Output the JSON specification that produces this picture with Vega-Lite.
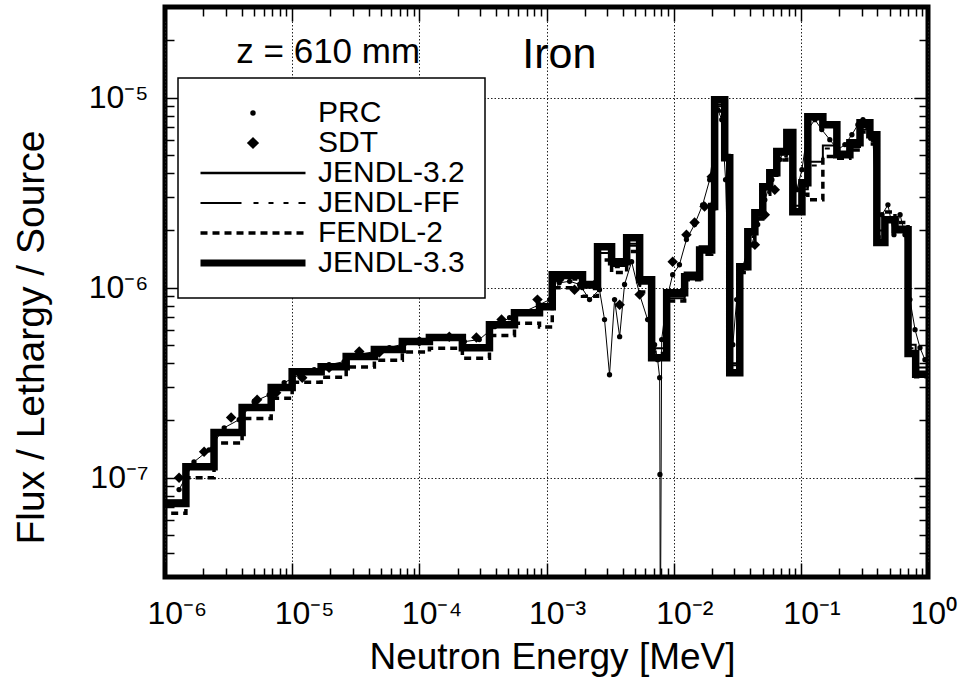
{
  "$schema": "https://vega.github.io/schema/vega-lite/v6.json",
  "width": 763,
  "height": 570,
  "autosize": {"type": "none"},
  "padding": {"left": 165, "top": 7, "right": 46, "bottom": 105},
  "background": "white",
  "config": {
    "view": {"stroke": "black", "strokeWidth": 5},
    "font": "Liberation Sans",
    "axis": {"domain": false, "labelFont": "Liberation Sans", "titleFont": "Liberation Sans", "labelColor": "black", "titleColor": "black", "tickColor": "black", "tickWidth": 1.5, "titleFontWeight": "normal"},
    "legend": {"labelFont": "Liberation Sans", "labelFontSize": 30, "labelColor": "black", "labelLimit": 400, "symbolSize": 11025, "symbolStrokeWidth": 2, "symbolOffset": 0, "labelOffset": 13, "padding": 20, "rowPadding": 0, "strokeColor": "black", "strokeWidth": 1.5, "fillColor": "white"}
  },
  "datasets": {
    "lines": [
      {"s":"JENDL-3.3","e":9e-7,"f":7.3e-8},{"s":"JENDL-3.3","e":1.46e-6,"f":1.14e-7},{"s":"JENDL-3.3","e":2.43e-6,"f":1.73e-7},{"s":"JENDL-3.3","e":4.04e-6,"f":2.34e-7},{"s":"JENDL-3.3","e":6.84e-6,"f":2.98e-7},{"s":"JENDL-3.3","e":1e-5,"f":3.61e-7},{"s":"JENDL-3.3","e":1.69e-5,"f":3.84e-7},{"s":"JENDL-3.3","e":2.66e-5,"f":4.34e-7},{"s":"JENDL-3.3","e":4.43e-5,"f":4.72e-7},{"s":"JENDL-3.3","e":7.35e-5,"f":5.2e-7},{"s":"JENDL-3.3","e":1.2e-4,"f":5.46e-7},{"s":"JENDL-3.3","e":2.18e-4,"f":4.83e-7},{"s":"JENDL-3.3","e":3.56e-4,"f":6.38e-7},{"s":"JENDL-3.3","e":5.6e-4,"f":7.38e-7},{"s":"JENDL-3.3","e":8.81e-4,"f":7.94e-7},{"s":"JENDL-3.3","e":1.11e-3,"f":1.17e-6},{"s":"JENDL-3.3","e":1.92e-3,"f":1.04e-6},{"s":"JENDL-3.3","e":2.52e-3,"f":1.64e-6},{"s":"JENDL-3.3","e":3.25e-3,"f":1.37e-6},{"s":"JENDL-3.3","e":4.27e-3,"f":1.83e-6},{"s":"JENDL-3.3","e":5.4e-3,"f":1.1e-6},{"s":"JENDL-3.3","e":6.71e-3,"f":4.28e-7},{"s":"JENDL-3.3","e":8.81e-3,"f":9.41e-7},{"s":"JENDL-3.3","e":1.22e-2,"f":1.14e-6},{"s":"JENDL-3.3","e":1.6e-2,"f":1.58e-6},{"s":"JENDL-3.3","e":1.99e-2,"f":2.67e-6},{"s":"JENDL-3.3","e":2.1e-2,"f":9.76e-6},{"s":"JENDL-3.3","e":2.52e-2,"f":4.83e-6},{"s":"JENDL-3.3","e":2.76e-2,"f":3.57e-7},{"s":"JENDL-3.3","e":3.31e-2,"f":1.29e-6},{"s":"JENDL-3.3","e":3.83e-2,"f":1.97e-6},{"s":"JENDL-3.3","e":4.35e-2,"f":2.48e-6},{"s":"JENDL-3.3","e":5.02e-2,"f":3.4e-6},{"s":"JENDL-3.3","e":5.7e-2,"f":4.03e-6},{"s":"JENDL-3.3","e":6.47e-2,"f":5.2e-6},{"s":"JENDL-3.3","e":7.76e-2,"f":6.55e-6},{"s":"JENDL-3.3","e":8.65e-2,"f":2.51e-6},{"s":"JENDL-3.3","e":0.102,"f":3.57e-6},{"s":"JENDL-3.3","e":0.1135,"f":7.94e-6},{"s":"JENDL-3.3","e":0.149,"f":7.21e-6},{"s":"JENDL-3.3","e":0.192,"f":5.01e-6},{"s":"JENDL-3.3","e":0.243,"f":5.79e-6},{"s":"JENDL-3.3","e":0.292,"f":7.38e-6},{"s":"JENDL-3.3","e":0.349,"f":6.38e-6},{"s":"JENDL-3.3","e":0.396,"f":1.73e-6},{"s":"JENDL-3.3","e":0.458,"f":2.28e-6},{"s":"JENDL-3.3","e":0.55,"f":2.02e-6},{"s":"JENDL-3.3","e":0.697,"f":4.5e-7},{"s":"JENDL-3.3","e":0.8,"f":3.5e-7},{"s":"JENDL-3.3","e":1.05,"f":3.5e-7},
      {"s":"JENDL-3.2","e":9e-7,"f":7.6e-8},{"s":"JENDL-3.2","e":1.46e-6,"f":1.18e-7},{"s":"JENDL-3.2","e":2.43e-6,"f":1.76e-7},{"s":"JENDL-3.2","e":4.04e-6,"f":2.38e-7},{"s":"JENDL-3.2","e":6.84e-6,"f":3.0e-7},{"s":"JENDL-3.2","e":1e-5,"f":3.66e-7},{"s":"JENDL-3.2","e":1.69e-5,"f":3.9e-7},{"s":"JENDL-3.2","e":2.66e-5,"f":4.4e-7},{"s":"JENDL-3.2","e":4.43e-5,"f":4.78e-7},{"s":"JENDL-3.2","e":7.35e-5,"f":5.25e-7},{"s":"JENDL-3.2","e":1.2e-4,"f":5.5e-7},{"s":"JENDL-3.2","e":2.18e-4,"f":4.9e-7},{"s":"JENDL-3.2","e":3.56e-4,"f":6.45e-7},{"s":"JENDL-3.2","e":5.6e-4,"f":7.45e-7},{"s":"JENDL-3.2","e":8.81e-4,"f":8.2e-7},{"s":"JENDL-3.2","e":1.11e-3,"f":1.12e-6},{"s":"JENDL-3.2","e":1.92e-3,"f":1.0e-6},{"s":"JENDL-3.2","e":2.52e-3,"f":1.52e-6},{"s":"JENDL-3.2","e":3.25e-3,"f":1.3e-6},{"s":"JENDL-3.2","e":4.27e-3,"f":1.7e-6},{"s":"JENDL-3.2","e":5.4e-3,"f":1.05e-6},{"s":"JENDL-3.2","e":6.71e-3,"f":4.8e-7},{"s":"JENDL-3.2","e":8.81e-3,"f":9.0e-7},{"s":"JENDL-3.2","e":1.22e-2,"f":1.2e-6},{"s":"JENDL-3.2","e":1.6e-2,"f":1.65e-6},{"s":"JENDL-3.2","e":1.99e-2,"f":2.8e-6},{"s":"JENDL-3.2","e":2.1e-2,"f":9.2e-6},{"s":"JENDL-3.2","e":2.52e-2,"f":5.0e-6},{"s":"JENDL-3.2","e":2.76e-2,"f":4.0e-7},{"s":"JENDL-3.2","e":3.31e-2,"f":1.25e-6},{"s":"JENDL-3.2","e":3.83e-2,"f":1.9e-6},{"s":"JENDL-3.2","e":4.35e-2,"f":2.4e-6},{"s":"JENDL-3.2","e":5.02e-2,"f":3.3e-6},{"s":"JENDL-3.2","e":5.7e-2,"f":4.1e-6},{"s":"JENDL-3.2","e":6.47e-2,"f":5.0e-6},{"s":"JENDL-3.2","e":7.76e-2,"f":6.0e-6},{"s":"JENDL-3.2","e":8.65e-2,"f":2.7e-6},{"s":"JENDL-3.2","e":0.102,"f":3.4e-6},{"s":"JENDL-3.2","e":0.1135,"f":4.6e-6},{"s":"JENDL-3.2","e":0.149,"f":5.6e-6},{"s":"JENDL-3.2","e":0.192,"f":5.2e-6},{"s":"JENDL-3.2","e":0.243,"f":5.6e-6},{"s":"JENDL-3.2","e":0.292,"f":7.0e-6},{"s":"JENDL-3.2","e":0.349,"f":6.1e-6},{"s":"JENDL-3.2","e":0.396,"f":2.0e-6},{"s":"JENDL-3.2","e":0.458,"f":2.35e-6},{"s":"JENDL-3.2","e":0.55,"f":2.1e-6},{"s":"JENDL-3.2","e":0.697,"f":5.0e-7},{"s":"JENDL-3.2","e":0.8,"f":3.8e-7},{"s":"JENDL-3.2","e":1.05,"f":3.8e-7},
      {"s":"JENDL-FF","e":9e-7,"f":7.4e-8},{"s":"JENDL-FF","e":1.46e-6,"f":1.16e-7},{"s":"JENDL-FF","e":2.43e-6,"f":1.7e-7},{"s":"JENDL-FF","e":4.04e-6,"f":2.3e-7},{"s":"JENDL-FF","e":6.84e-6,"f":2.92e-7},{"s":"JENDL-FF","e":1e-5,"f":3.55e-7},{"s":"JENDL-FF","e":1.69e-5,"f":3.8e-7},{"s":"JENDL-FF","e":2.66e-5,"f":4.28e-7},{"s":"JENDL-FF","e":4.43e-5,"f":4.65e-7},{"s":"JENDL-FF","e":7.35e-5,"f":5.12e-7},{"s":"JENDL-FF","e":1.2e-4,"f":5.4e-7},{"s":"JENDL-FF","e":2.18e-4,"f":4.78e-7},{"s":"JENDL-FF","e":3.56e-4,"f":6.3e-7},{"s":"JENDL-FF","e":5.6e-4,"f":7.3e-7},{"s":"JENDL-FF","e":8.81e-4,"f":8.0e-7},{"s":"JENDL-FF","e":1.11e-3,"f":1.1e-6},{"s":"JENDL-FF","e":1.92e-3,"f":9.8e-7},{"s":"JENDL-FF","e":2.52e-3,"f":1.48e-6},{"s":"JENDL-FF","e":3.25e-3,"f":1.28e-6},{"s":"JENDL-FF","e":4.27e-3,"f":1.66e-6},{"s":"JENDL-FF","e":5.4e-3,"f":1.02e-6},{"s":"JENDL-FF","e":6.71e-3,"f":4.6e-7},{"s":"JENDL-FF","e":8.81e-3,"f":8.8e-7},{"s":"JENDL-FF","e":1.22e-2,"f":1.18e-6},{"s":"JENDL-FF","e":1.6e-2,"f":1.62e-6},{"s":"JENDL-FF","e":1.99e-2,"f":2.75e-6},{"s":"JENDL-FF","e":2.1e-2,"f":9.0e-6},{"s":"JENDL-FF","e":2.52e-2,"f":4.9e-6},{"s":"JENDL-FF","e":2.76e-2,"f":3.9e-7},{"s":"JENDL-FF","e":3.31e-2,"f":1.22e-6},{"s":"JENDL-FF","e":3.83e-2,"f":1.85e-6},{"s":"JENDL-FF","e":4.35e-2,"f":2.35e-6},{"s":"JENDL-FF","e":5.02e-2,"f":3.2e-6},{"s":"JENDL-FF","e":5.7e-2,"f":4.0e-6},{"s":"JENDL-FF","e":6.47e-2,"f":4.9e-6},{"s":"JENDL-FF","e":7.76e-2,"f":5.8e-6},{"s":"JENDL-FF","e":8.65e-2,"f":2.6e-6},{"s":"JENDL-FF","e":0.102,"f":3.3e-6},{"s":"JENDL-FF","e":0.1135,"f":4.4e-6},{"s":"JENDL-FF","e":0.149,"f":5.4e-6},{"s":"JENDL-FF","e":0.192,"f":5.0e-6},{"s":"JENDL-FF","e":0.243,"f":5.5e-6},{"s":"JENDL-FF","e":0.292,"f":6.8e-6},{"s":"JENDL-FF","e":0.349,"f":5.9e-6},{"s":"JENDL-FF","e":0.396,"f":1.9e-6},{"s":"JENDL-FF","e":0.458,"f":2.25e-6},{"s":"JENDL-FF","e":0.55,"f":2.05e-6},{"s":"JENDL-FF","e":0.697,"f":4.8e-7},{"s":"JENDL-FF","e":0.8,"f":3.6e-7},{"s":"JENDL-FF","e":1.05,"f":3.6e-7},
      {"s":"FENDL-2","e":9e-7,"f":6.5e-8},{"s":"FENDL-2","e":1.46e-6,"f":1.0e-7},{"s":"FENDL-2","e":2.43e-6,"f":1.52e-7},{"s":"FENDL-2","e":4.04e-6,"f":2.05e-7},{"s":"FENDL-2","e":6.84e-6,"f":2.62e-7},{"s":"FENDL-2","e":1e-5,"f":3.18e-7},{"s":"FENDL-2","e":1.69e-5,"f":3.38e-7},{"s":"FENDL-2","e":2.66e-5,"f":3.82e-7},{"s":"FENDL-2","e":4.43e-5,"f":4.15e-7},{"s":"FENDL-2","e":7.35e-5,"f":4.58e-7},{"s":"FENDL-2","e":1.2e-4,"f":4.8e-7},{"s":"FENDL-2","e":2.18e-4,"f":4.25e-7},{"s":"FENDL-2","e":3.56e-4,"f":5.6e-7},{"s":"FENDL-2","e":5.6e-4,"f":6.5e-7},{"s":"FENDL-2","e":8.81e-4,"f":6.2e-7},{"s":"FENDL-2","e":1.11e-3,"f":1.0e-6},{"s":"FENDL-2","e":1.92e-3,"f":9.0e-7},{"s":"FENDL-2","e":2.52e-3,"f":1.4e-6},{"s":"FENDL-2","e":3.25e-3,"f":1.2e-6},{"s":"FENDL-2","e":4.27e-3,"f":1.55e-6},{"s":"FENDL-2","e":5.4e-3,"f":9.5e-7},{"s":"FENDL-2","e":6.71e-3,"f":4.5e-7},{"s":"FENDL-2","e":8.81e-3,"f":8.5e-7},{"s":"FENDL-2","e":1.22e-2,"f":1.1e-6},{"s":"FENDL-2","e":1.6e-2,"f":1.5e-6},{"s":"FENDL-2","e":1.99e-2,"f":2.6e-6},{"s":"FENDL-2","e":2.1e-2,"f":8.5e-6},{"s":"FENDL-2","e":2.52e-2,"f":4.6e-6},{"s":"FENDL-2","e":2.76e-2,"f":3.8e-7},{"s":"FENDL-2","e":3.31e-2,"f":1.2e-6},{"s":"FENDL-2","e":3.83e-2,"f":1.8e-6},{"s":"FENDL-2","e":4.35e-2,"f":2.3e-6},{"s":"FENDL-2","e":5.02e-2,"f":3.1e-6},{"s":"FENDL-2","e":5.7e-2,"f":3.9e-6},{"s":"FENDL-2","e":6.47e-2,"f":4.7e-6},{"s":"FENDL-2","e":7.76e-2,"f":5.6e-6},{"s":"FENDL-2","e":8.65e-2,"f":2.5e-6},{"s":"FENDL-2","e":0.102,"f":3.1e-6},{"s":"FENDL-2","e":0.1135,"f":2.9e-6},{"s":"FENDL-2","e":0.149,"f":4.9e-6},{"s":"FENDL-2","e":0.192,"f":4.8e-6},{"s":"FENDL-2","e":0.243,"f":5.3e-6},{"s":"FENDL-2","e":0.292,"f":6.6e-6},{"s":"FENDL-2","e":0.349,"f":5.7e-6},{"s":"FENDL-2","e":0.396,"f":1.85e-6},{"s":"FENDL-2","e":0.458,"f":2.5e-6},{"s":"FENDL-2","e":0.55,"f":2.2e-6},{"s":"FENDL-2","e":0.697,"f":4.6e-7},{"s":"FENDL-2","e":0.8,"f":3.4e-7},{"s":"FENDL-2","e":1.05,"f":3.4e-7}
    ],
    "prc": [
      {"s":"PRC","e":1.29e-6,"f":8.65e-8},{"s":"PRC","e":1.69e-6,"f":1.21e-7},{"s":"PRC","e":2.22e-6,"f":1.4e-7},{"s":"PRC","e":2.92e-6,"f":1.83e-7},{"s":"PRC","e":3.83e-6,"f":2.02e-7},{"s":"PRC","e":5.02e-6,"f":2.51e-7},{"s":"PRC","e":6.59e-6,"f":2.73e-7},{"s":"PRC","e":8.65e-6,"f":3.16e-7},{"s":"PRC","e":1.14e-5,"f":3.48e-7},{"s":"PRC","e":1.49e-5,"f":3.7e-7},{"s":"PRC","e":1.95e-5,"f":3.93e-7},{"s":"PRC","e":2.56e-5,"f":4.08e-7},{"s":"PRC","e":3.37e-5,"f":4.44e-7},{"s":"PRC","e":4.43e-5,"f":4.61e-7},{"s":"PRC","e":5.81e-5,"f":4.83e-7},{"s":"PRC","e":7.62e-5,"f":5.07e-7},{"s":"PRC","e":1.0e-4,"f":5.33e-7},{"s":"PRC","e":1.31e-4,"f":5.46e-7},{"s":"PRC","e":1.72e-4,"f":5.52e-7},{"s":"PRC","e":2.26e-4,"f":5.2e-7},{"s":"PRC","e":2.96e-4,"f":5.33e-7},{"s":"PRC","e":3.9e-4,"f":6.23e-7},{"s":"PRC","e":5.12e-4,"f":6.95e-7},{"s":"PRC","e":6.71e-4,"f":7.48e-7},{"s":"PRC","e":8.81e-4,"f":8.14e-7},{"s":"PRC","e":1.06e-3,"f":8.65e-7},{"s":"PRC","e":1.26e-3,"f":1.06e-6},{"s":"PRC","e":1.52e-3,"f":1.08e-6},{"s":"PRC","e":1.82e-3,"f":1.04e-6},{"s":"PRC","e":2.18e-3,"f":8.65e-7},{"s":"PRC","e":2.61e-3,"f":9.76e-7},{"s":"PRC","e":2.86e-3,"f":6.79e-7},{"s":"PRC","e":3.13e-3,"f":3.48e-7},{"s":"PRC","e":3.43e-3,"f":8.65e-7},{"s":"PRC","e":3.76e-3,"f":5.52e-7},{"s":"PRC","e":4.11e-3,"f":1.04e-6},{"s":"PRC","e":4.67e-3,"f":1.37e-6},{"s":"PRC","e":5.4e-3,"f":9.19e-7},{"s":"PRC","e":6.24e-3,"f":6.79e-7},{"s":"PRC","e":7.08e-3,"f":5.01e-7},{"s":"PRC","e":7.48e-3,"f":4.18e-7},{"s":"PRC","e":7.76e-3,"f":3.36e-7},{"s":"PRC","e":7.8e-3,"f":1.04e-7},{"s":"PRC","e":7.85e-3,"f":1.0e-8},{"s":"PRC","e":8.05e-3,"f":5.33e-7},{"s":"PRC","e":8.81e-3,"f":8.65e-7},{"s":"PRC","e":9.82e-3,"f":1.17e-6},{"s":"PRC","e":1.11e-2,"f":1.32e-6},{"s":"PRC","e":1.26e-2,"f":1.79e-6},{"s":"PRC","e":1.46e-2,"f":2.15e-6},{"s":"PRC","e":1.69e-2,"f":2.73e-6},{"s":"PRC","e":1.92e-2,"f":3.7e-6},{"s":"PRC","e":2.07e-2,"f":5.32e-6},{"s":"PRC","e":2.22e-2,"f":8.65e-6},{"s":"PRC","e":2.39e-2,"f":7.66e-6},{"s":"PRC","e":2.56e-2,"f":3.7e-6},{"s":"PRC","e":2.71e-2,"f":9.19e-7},{"s":"PRC","e":2.92e-2,"f":5.01e-7},{"s":"PRC","e":3.13e-2,"f":8.65e-7},{"s":"PRC","e":3.43e-2,"f":1.24e-6},{"s":"PRC","e":3.83e-2,"f":1.58e-6},{"s":"PRC","e":4.11e-2,"f":1.68e-6},{"s":"PRC","e":4.58e-2,"f":2.15e-6},{"s":"PRC","e":5.21e-2,"f":2.9e-6},{"s":"PRC","e":5.92e-2,"f":3.7e-6},{"s":"PRC","e":6.84e-2,"f":4.72e-6},{"s":"PRC","e":7.76e-2,"f":5.66e-6},{"s":"PRC","e":8.49e-2,"f":6.01e-6},{"s":"PRC","e":9.31e-2,"f":3.28e-6},{"s":"PRC","e":0.102,"f":4.18e-6},{"s":"PRC","e":0.1135,"f":6.79e-6},{"s":"PRC","e":0.129,"f":7.66e-6},{"s":"PRC","e":0.146,"f":6.79e-6},{"s":"PRC","e":0.169,"f":6.01e-6},{"s":"PRC","e":0.195,"f":5.32e-6},{"s":"PRC","e":0.222,"f":5.66e-6},{"s":"PRC","e":0.252,"f":6.38e-6},{"s":"PRC","e":0.281,"f":7.21e-6},{"s":"PRC","e":0.308,"f":7.66e-6},{"s":"PRC","e":0.337,"f":6.95e-6},{"s":"PRC","e":0.369,"f":6.01e-6},{"s":"PRC","e":0.396,"f":2.58e-6},{"s":"PRC","e":0.435,"f":2.42e-6},{"s":"PRC","e":0.484,"f":2.73e-6},{"s":"PRC","e":0.54,"f":1.9e-6},{"s":"PRC","e":0.603,"f":2.42e-6},{"s":"PRC","e":0.659,"f":1.9e-6},{"s":"PRC","e":0.721,"f":8.65e-7},{"s":"PRC","e":0.791,"f":6.01e-7},{"s":"PRC","e":0.865,"f":4.83e-7},{"s":"PRC","e":0.946,"f":4.18e-7}
    ],
    "sdt": [
      {"s":"SDT","e":1.29e-6,"f":1.0e-7},{"s":"SDT","e":2.03e-6,"f":1.37e-7},{"s":"SDT","e":3.31e-6,"f":2.07e-7},{"s":"SDT","e":5.3e-6,"f":2.57e-7},{"s":"SDT","e":7.48e-6,"f":2.8e-7},{"s":"SDT","e":1.2e-5,"f":3.36e-7},{"s":"SDT","e":1.95e-5,"f":3.79e-7},{"s":"SDT","e":3.37e-5,"f":4.61e-7},{"s":"SDT","e":4.84e-5,"f":4.56e-7},{"s":"SDT","e":1.0e-4,"f":5.2e-7},{"s":"SDT","e":1.72e-4,"f":5.52e-7},{"s":"SDT","e":2.81e-4,"f":5.46e-7},{"s":"SDT","e":4.43e-4,"f":6.79e-7},{"s":"SDT","e":8.49e-4,"f":8.65e-7},{"s":"SDT","e":1.26e-3,"f":1.1e-6},{"s":"SDT","e":1.66e-3,"f":9.76e-7},{"s":"SDT","e":2.39e-3,"f":1.04e-6},{"s":"SDT","e":3.76e-3,"f":8.14e-7},{"s":"SDT","e":5.4e-3,"f":9.19e-7},{"s":"SDT","e":9.82e-3,"f":1.37e-6},{"s":"SDT","e":1.26e-2,"f":1.9e-6},{"s":"SDT","e":1.46e-2,"f":2.2e-6},{"s":"SDT","e":1.75e-2,"f":2.67e-6},{"s":"SDT","e":1.99e-2,"f":3.84e-6},{"s":"SDT","e":4.35e-2,"f":1.68e-6},{"s":"SDT","e":5.21e-2,"f":2.42e-6},{"s":"SDT","e":6.24e-2,"f":3.28e-6}
    ],
    "notes": [
      {"t":"z = 610 mm","k":"pos","e":1.92e-5,"f":1.53e-5},
      {"t":"Iron","k":"mat","e":1.26e-3,"f":1.44e-5}
    ]
  },
  "resolve": {"axis": {"x": "independent", "y": "independent"}},
  "layer": [
    {
      "data": {"name": "lines"},
      "transform": [{"filter": "datum.s === 'JENDL-3.3'"}],
      "mark": {"type": "line", "interpolate": "step-after", "strokeWidth": 7.5, "strokeCap": "butt", "strokeJoin": "miter", "clip": true},
      "encoding": {
        "x": {"field": "e", "type": "quantitative", "scale": {"type": "log", "domain": [1e-6, 1], "nice": false},
          "axis": {"orient": "bottom",
            "values": [1e-6,2e-6,3e-6,4e-6,5e-6,6e-6,7e-6,8e-6,9e-6,1e-5,2e-5,3e-5,4e-5,5e-5,6e-5,7e-5,8e-5,9e-5,1e-4,2e-4,3e-4,4e-4,5e-4,6e-4,7e-4,8e-4,9e-4,0.001,0.002,0.003,0.004,0.005,0.006,0.007,0.008,0.009,0.01,0.02,0.03,0.04,0.05,0.06,0.07,0.08,0.09,0.1,0.2,0.3,0.4,0.5,0.6,0.7,0.8,0.9,1],
            "title": "Neutron Energy [MeV]", "titleFontSize": 37, "titleX": 387, "titleY": 91, "titleBaseline": "alphabetic", "titleAlign": "center",
            "labelFontSize": 32, "labelAlign": "left", "labelOffset": -18, "labelBaseline": "top", "labelPadding": 35, "labelFlush": false, "labelOverlap": false, "labelBound": false,
            "labelExpr": "(abs(log(datum.value)/LN10 - round(log(datum.value)/LN10)) < 0.001) ? '10' + (round(log(datum.value)/LN10) < 0 ? '⁻' : '') + ['⁰','¹','²','³','⁴','⁵','⁶','⁷','⁸','⁹'][abs(round(log(datum.value)/LN10))] : ''",
            "tickSize": {"condition": {"test": "abs(log(datum.value)/LN10 - round(log(datum.value)/LN10)) < 0.001", "value": -14}, "value": -9},
            "grid": true, "gridColor": "#222", "gridDash": [1.5, 2], "gridWidth": 1,
            "gridOpacity": {"condition": {"test": "abs(log(datum.value)/LN10 - round(log(datum.value)/LN10)) < 0.001", "value": 1}, "value": 0}
          }},
        "y": {"field": "f", "type": "quantitative", "scale": {"type": "log", "domain": [3e-8, 3e-5], "nice": false},
          "axis": {"orient": "left",
            "values": [4e-8,5e-8,6e-8,7e-8,8e-8,9e-8,1e-7,2e-7,3e-7,4e-7,5e-7,6e-7,7e-7,8e-7,9e-7,1e-6,2e-6,3e-6,4e-6,5e-6,6e-6,7e-6,8e-6,9e-6,1e-5,2e-5],
            "title": "Flux / Lethargy / Source", "titleFontSize": 39, "titleX": -122, "titleY": 330, "titleBaseline": "alphabetic", "titleAlign": "center", "titleAngle": -90,
            "labelFontSize": 32, "labelAlign": "right", "labelBaseline": "middle", "labelPadding": 31, "labelFlush": false, "labelOverlap": false, "labelBound": false,
            "labelExpr": "(abs(log(datum.value)/LN10 - round(log(datum.value)/LN10)) < 0.001) ? '10' + (round(log(datum.value)/LN10) < 0 ? '⁻' : '') + ['⁰','¹','²','³','⁴','⁵','⁶','⁷','⁸','⁹'][abs(round(log(datum.value)/LN10))] : ''",
            "tickSize": {"condition": {"test": "abs(log(datum.value)/LN10 - round(log(datum.value)/LN10)) < 0.001", "value": -14}, "value": -9},
            "grid": true, "gridColor": "#222", "gridDash": [1.5, 2], "gridWidth": 1,
            "gridOpacity": {"condition": {"test": "abs(log(datum.value)/LN10 - round(log(datum.value)/LN10)) < 0.001", "value": 1}, "value": 0}
          }},
        "color": {"field": "s", "type": "nominal",
          "scale": {"domain": ["PRC", "SDT", "JENDL-3.2", "JENDL-FF", "FENDL-2", "JENDL-3.3"], "range": ["black", "black", "black", "black", "black", "black"]},
          "legend": {"orient": "none", "legendX": 13, "legendY": 71, "title": null, "direction": "vertical",
            "encode": {
              "symbols": {"update": {
                "x": {"value": 55},
                "shape": {"signal": "datum.value === 'PRC' ? 'circle' : datum.value === 'SDT' ? 'diamond' : 'stroke'"},
                "size": {"signal": "datum.value === 'PRC' ? 30 : datum.value === 'SDT' ? 150 : 11025"},
                "strokeWidth": {"signal": "datum.value === 'JENDL-3.3' ? 7 : datum.value === 'FENDL-2' ? 3.5 : datum.value === 'JENDL-3.2' ? 2.5 : datum.value === 'JENDL-FF' ? 2 : 0"},
                "strokeDash": {"signal": "datum.value === 'JENDL-FF' ? [41,12,5,10,5,10,5,10] : datum.value === 'FENDL-2' ? [7,5] : [1,0]"},
                "fill": {"signal": "datum.value === 'PRC' || datum.value === 'SDT' ? 'black' : 'transparent'"},
                "stroke": {"value": "black"},
                "strokeCap": {"value": "butt"},
                "opacity": {"value": 1}
              }},
              "labels": {"update": {"x": {"value": 120}}}
            }
          }}
      }
    },
    {
      "data": {"name": "lines"},
      "transform": [{"filter": "datum.s === 'JENDL-3.2'"}],
      "mark": {"type": "line", "interpolate": "step-after", "strokeWidth": 2, "clip": true},
      "encoding": {
        "x": {"field": "e", "type": "quantitative",
          "axis": {"orient": "top", "labels": false, "title": null, "grid": false,
            "values": [1e-6,2e-6,3e-6,4e-6,5e-6,6e-6,7e-6,8e-6,9e-6,1e-5,2e-5,3e-5,4e-5,5e-5,6e-5,7e-5,8e-5,9e-5,1e-4,2e-4,3e-4,4e-4,5e-4,6e-4,7e-4,8e-4,9e-4,0.001,0.002,0.003,0.004,0.005,0.006,0.007,0.008,0.009,0.01,0.02,0.03,0.04,0.05,0.06,0.07,0.08,0.09,0.1,0.2,0.3,0.4,0.5,0.6,0.7,0.8,0.9,1],
            "tickSize": {"condition": {"test": "abs(log(datum.value)/LN10 - round(log(datum.value)/LN10)) < 0.001", "value": -14}, "value": -9}}},
        "y": {"field": "f", "type": "quantitative",
          "axis": {"orient": "right", "labels": false, "title": null, "grid": false,
            "values": [4e-8,5e-8,6e-8,7e-8,8e-8,9e-8,1e-7,2e-7,3e-7,4e-7,5e-7,6e-7,7e-7,8e-7,9e-7,1e-6,2e-6,3e-6,4e-6,5e-6,6e-6,7e-6,8e-6,9e-6,1e-5,2e-5],
            "tickSize": {"condition": {"test": "abs(log(datum.value)/LN10 - round(log(datum.value)/LN10)) < 0.001", "value": -14}, "value": -9}}},
        "color": {"field": "s", "type": "nominal"}
      }
    },
    {
      "data": {"name": "lines"},
      "transform": [{"filter": "datum.s === 'JENDL-FF'"}],
      "mark": {"type": "line", "interpolate": "step-after", "strokeWidth": 2, "strokeDash": [41, 12, 5, 10, 5, 10, 5, 10], "clip": true},
      "encoding": {
        "x": {"field": "e", "type": "quantitative", "axis": null},
        "y": {"field": "f", "type": "quantitative", "axis": null},
        "color": {"field": "s", "type": "nominal"}
      }
    },
    {
      "data": {"name": "lines"},
      "transform": [{"filter": "datum.s === 'FENDL-2'"}],
      "mark": {"type": "line", "interpolate": "step-after", "strokeWidth": 3.5, "strokeDash": [7, 5], "clip": true},
      "encoding": {
        "x": {"field": "e", "type": "quantitative", "axis": null},
        "y": {"field": "f", "type": "quantitative", "axis": null},
        "color": {"field": "s", "type": "nominal"}
      }
    },
    {
      "data": {"name": "prc"},
      "mark": {"type": "line", "strokeWidth": 1, "color": "black", "clip": true},
      "encoding": {
        "x": {"field": "e", "type": "quantitative", "axis": null},
        "y": {"field": "f", "type": "quantitative", "axis": null}
      }
    },
    {
      "data": {"name": "prc"},
      "mark": {"type": "circle", "size": 28, "opacity": 1, "clip": true},
      "encoding": {
        "x": {"field": "e", "type": "quantitative", "axis": null},
        "y": {"field": "f", "type": "quantitative", "axis": null},
        "color": {"field": "s", "type": "nominal"}
      }
    },
    {
      "data": {"name": "sdt"},
      "mark": {"type": "point", "shape": "diamond", "filled": true, "size": 110, "opacity": 1, "clip": true},
      "encoding": {
        "x": {"field": "e", "type": "quantitative", "axis": null},
        "y": {"field": "f", "type": "quantitative", "axis": null},
        "color": {"field": "s", "type": "nominal"}
      }
    },
    {
      "data": {"name": "notes"},
      "transform": [{"filter": "datum.k === 'pos'"}],
      "mark": {"type": "text", "font": "Liberation Sans", "fontSize": 35, "align": "center", "baseline": "alphabetic", "color": "black"},
      "encoding": {
        "x": {"field": "e", "type": "quantitative", "axis": null},
        "y": {"field": "f", "type": "quantitative", "axis": null},
        "text": {"field": "t"}
      }
    },
    {
      "data": {"name": "notes"},
      "transform": [{"filter": "datum.k === 'mat'"}],
      "mark": {"type": "text", "font": "Liberation Sans", "fontSize": 43, "align": "center", "baseline": "alphabetic", "color": "black"},
      "encoding": {
        "x": {"field": "e", "type": "quantitative", "axis": null},
        "y": {"field": "f", "type": "quantitative", "axis": null},
        "text": {"field": "t"}
      }
    }
  ]
}
